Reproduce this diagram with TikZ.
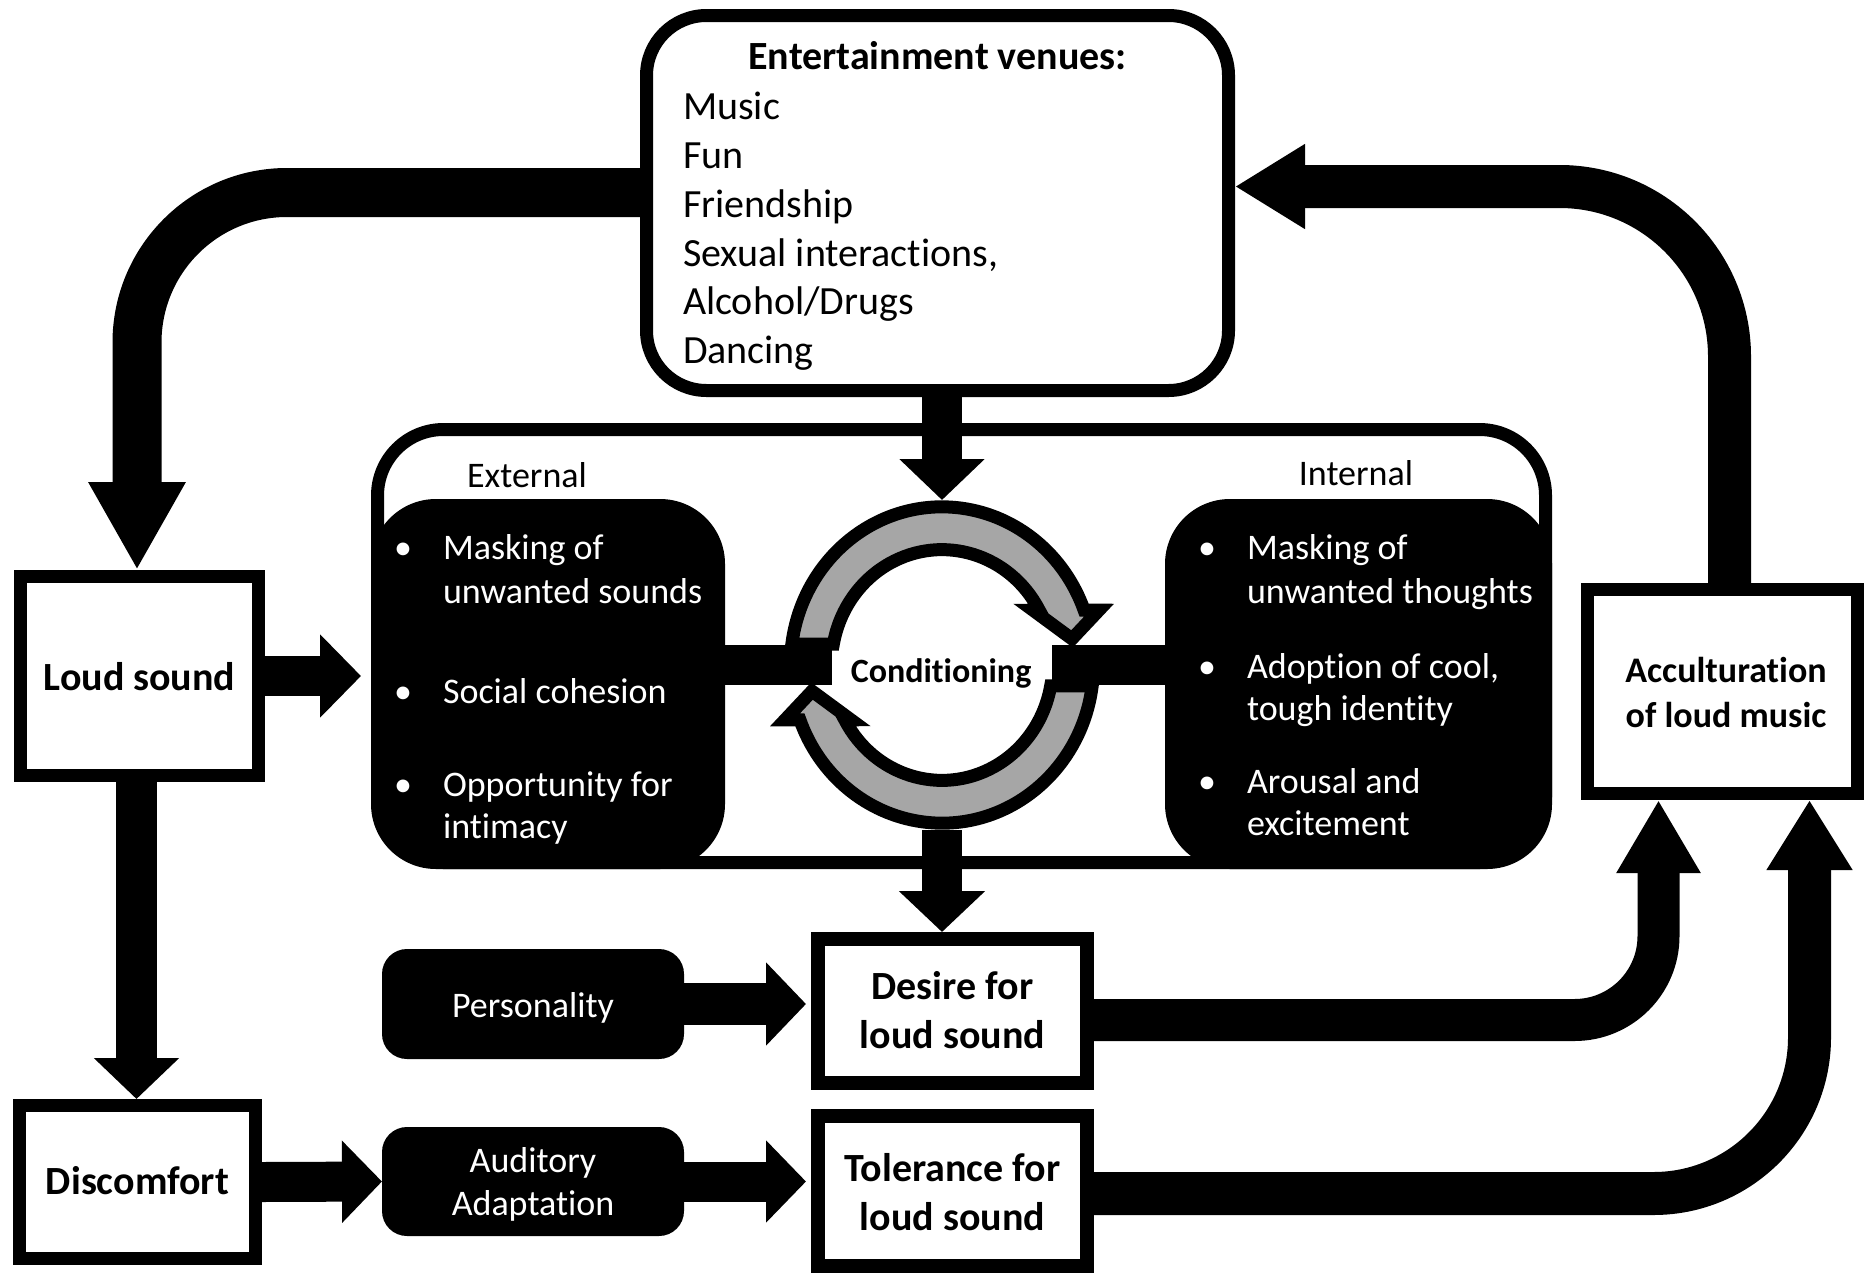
\documentclass[tikz,border=0pt]{standalone}
\usepackage{fontspec}
\setmainfont{Carlito}[Ligatures=NoCommon]
\usetikzlibrary{arrows.meta}
\definecolor{ringgray}{RGB}{166,166,166}
\begin{document}
\begin{tikzpicture}[x=1pt, y=-1pt,
  every node/.style={inner sep=0pt, outer sep=0pt},
  sqbox/.style={draw=black, fill=white, line width=13pt, outer sep=6.5pt},
  thickbox/.style={draw=black, fill=white, line width=14pt, outer sep=7pt},
  blackbox/.style={fill=black, rounded corners=25pt},
  panel/.style={fill=black, rounded corners=65pt},
  t40/.style={font=\fontsize{40}{48}\selectfont, yshift=-1.5pt},
  b40/.style={font=\fontsize{40}{48}\selectfont\bfseries, yshift=-1.5pt},
  t36/.style={font=\fontsize{36}{44}\selectfont, yshift=-1.5pt},
  b36/.style={font=\fontsize{36}{44}\selectfont\bfseries, yshift=-1.5pt},
  b34/.style={font=\fontsize{34}{40}\selectfont\bfseries, yshift=-1.5pt},
  wt/.style={t36, text=white},
  fat/.style n args={3}{line width=#1, -{Triangle[length=#2 0 0, width=#3 0 0]}},
  cyclearrow/.style={fill=ringgray, draw=black, line width=13pt, line join=miter},
]
\useasboundingbox (0,0) rectangle (1865,1274);

% ---------- boxes ----------
\node[sqbox, rounded corners=60pt, minimum width=582pt, minimum height=375pt] (topbox) at (937.5,203) {};
\node[draw=black, line width=13pt, rounded corners=66pt, minimum width=1168pt, minimum height=433pt] (frame) at (961.5,646) {};
\node[panel, minimum width=354pt, minimum height=370pt] (ext) at (548,684) {};
\node[panel, minimum width=387pt, minimum height=370pt] (int) at (1358.5,684) {};
\node[sqbox, minimum width=238pt, minimum height=199pt] (loud) at (139.5,676) {};
\node[sqbox, minimum width=236pt, minimum height=153pt] (disc) at (137.5,1182) {};
\node[thickbox, minimum width=269pt, minimum height=144pt] (desire) at (952.5,1011) {};
\node[thickbox, minimum width=269pt, minimum height=150pt] (tol) at (952.5,1191) {};
\node[sqbox, minimum width=270pt, minimum height=204pt] (accult) at (1722.5,691.5) {};
\node[blackbox, minimum width=302pt, minimum height=110pt] (pers) at (533,1004) {};
\node[blackbox, minimum width=302pt, minimum height=109pt] (aud) at (533,1181.5) {};
\node[circle, minimum size=330pt] (ring) at (942,665) {};

% ---------- conditioning cycle ----------
\draw[line width=40pt] (ring.center -| ext.east) -- ([xshift=-110pt]ring.center);
\draw[line width=40pt] ([xshift=110pt]ring.center) -- (ring.center -| int.west);
\begin{scope}[shift={(ring.center)}, yscale=1.044]
  \foreach \r in {0,180}{
    \filldraw[cyclearrow, rotate=\r]
      (187.6:151.5) arc[start angle=187.6, end angle=339.7, radius=151.5]
      -- (157,-52.5) -- (130,-25) -- (91,-52.5)
      -- (331.6:110.5) arc[start angle=331.6, end angle=190.4, radius=110.5]
      -- cycle;
  }
\end{scope}
\node[b34, anchor=base] (cond) at (941,681) {Conditioning};

% ---------- connectors ----------
\coordinate (cornerL) at (137,192.5);
\coordinate (cornerR) at (1729.5,186.5);
\coordinate (cornerD) at (1658.5,1020);
\coordinate (cornerT) at (1809.5,1193.5);

\draw[fat={49pt}{88pt}{91pt}, rounded corners=150pt]
  (cornerL -| topbox.west) -- (cornerL) -- (cornerL |- loud.north);
\draw[fat={43pt}{70pt}{80pt}, rounded corners=170pt]
  (cornerR |- accult.north) -- (cornerR) -- (cornerR -| topbox.east);
\draw[fat={42pt}{73pt}{79pt}, rounded corners=84pt]
  (cornerD -| desire.east) -- (cornerD) -- (cornerD |- accult.south);
\draw[fat={43pt}{70pt}{81pt}, rounded corners=156pt]
  (cornerT -| tol.east) -- (cornerT) -- (cornerT |- accult.south);

\draw[fat={40pt}{41pt}{83pt}] (topbox.south -| ring.north) -- (ring.north);
\draw[fat={40pt}{41pt}{84pt}] (ring.south) -- (ring.south |- desire.north);
\draw[fat={40pt}{41pt}{81pt}, shorten >=10pt] (loud.east) -- (loud.east -| ext.west);
\draw[fat={41pt}{41pt}{83pt}] ([xshift=-3pt]loud.south) -- ([xshift=-3pt]loud.south |- disc.north);
\draw[fat={40pt}{40pt}{80pt}] (disc.east) -- (aud.west);
\draw[fat={40pt}{40pt}{80pt}, shorten >=5pt] (aud.east) -- (aud.east -| tol.west);
\draw[fat={42pt}{40pt}{81pt}, shorten >=5pt] (pers.east) -- (pers.east -| desire.west);

% ---------- texts ----------
\node[b40, anchor=base] (title) at (937.5,68) {Entertainment venues:};
\node[t40, anchor=base west] (v1) at (683,118) {Music};
\node[t40, anchor=base west] (v2) at (683,167) {Fun};
\node[t40, anchor=base west] (v3) at (683,216) {Friendship};
\node[t40, anchor=base west] (v4) at (683,265) {Sexual interactions,};
\node[t40, anchor=base west] (v5) at (683,313) {Alcohol/Drugs};
\node[t40, anchor=base west] (v6) at (683,362) {Dancing};

\node[t36, anchor=base] (extlabel) at (527,486) {External};
\node[t36, anchor=base] (intlabel) at (1356,484) {Internal};

\node[wt, anchor=base] (eb1) at (403,558) {•};
\node[wt, anchor=base west] (e1a) at (443,558) {Masking of};
\node[wt, anchor=base west] (e1b) at (443,602) {unwanted sounds};
\node[wt, anchor=base] (eb2) at (403,702) {•};
\node[wt, anchor=base west] (e2) at (443,702) {Social cohesion};
\node[wt, anchor=base] (eb3) at (403,795) {•};
\node[wt, anchor=base west] (e3a) at (443,795) {Opportunity for};
\node[wt, anchor=base west] (e3b) at (443,837) {intimacy};

\node[wt, anchor=base] (ib1) at (1207,558) {•};
\node[wt, anchor=base west] (i1a) at (1247,558) {Masking of};
\node[wt, anchor=base west] (i1b) at (1247,602) {unwanted thoughts};
\node[wt, anchor=base] (ib2) at (1207,677) {•};
\node[wt, anchor=base west] (i2a) at (1247,677) {Adoption of cool,};
\node[wt, anchor=base west] (i2b) at (1247,719) {tough identity};
\node[wt, anchor=base] (ib3) at (1207,792) {•};
\node[wt, anchor=base west] (i3a) at (1247,792) {Arousal and};
\node[wt, anchor=base west] (i3b) at (1247,834) {excitement};

\node[b40, anchor=base] (loudtxt) at (139.5,689) {Loud sound};
\node[b40, anchor=base] (disctxt) at (137.5,1193) {Discomfort};
\node[b40, anchor=base] (des1) at (952.5,998) {Desire for};
\node[b40, anchor=base] (des2) at (952.5,1047) {loud sound};
\node[b40, anchor=base] (tol1) at (952.5,1180) {Tolerance for};
\node[b40, anchor=base] (tol2) at (952.5,1229) {loud sound};
\node[b36, anchor=base] (acc1) at (1726,681) {Acculturation};
\node[b36, anchor=base] (acc2) at (1726,726) {of loud music};
\node[wt, anchor=base] (perstxt) at (533,1016) {Personality};
\node[wt, anchor=base] (aud1) at (533,1171) {Auditory};
\node[wt, anchor=base] (aud2) at (533,1214) {Adaptation};
\end{tikzpicture}
\end{document}
